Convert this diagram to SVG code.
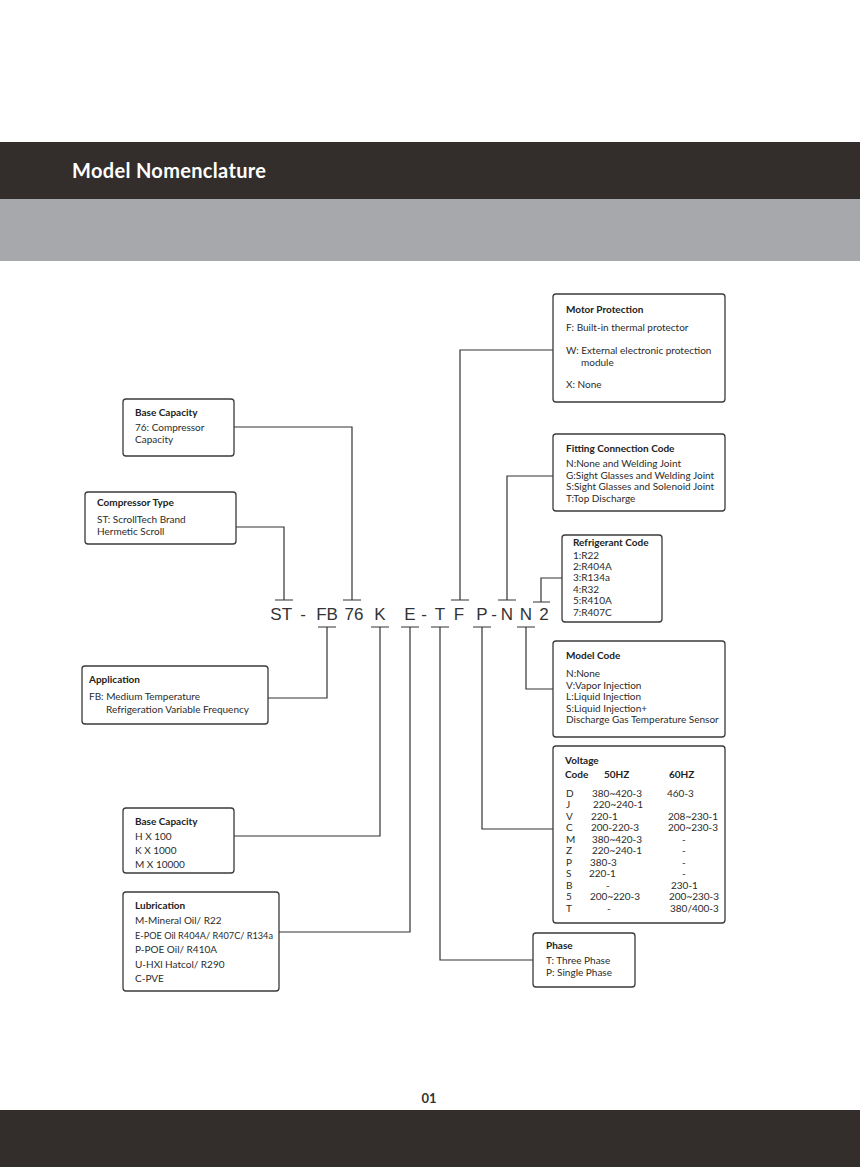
<svg xmlns="http://www.w3.org/2000/svg" width="860" height="1167" viewBox="0 0 860 1167">
<style>
.box{fill:#fff;stroke:#3a3a3a;stroke-width:1.3}
.ln{fill:none;stroke:#333;stroke-width:1.2}
.t{font-family:Lato,"Open Sans","DejaVu Sans",sans-serif;font-size:10px;fill:#2b2b2b}
.h{font-family:Lato,"Open Sans","DejaVu Sans",sans-serif;font-size:10px;font-weight:bold;fill:#222}
.code{font-family:"Liberation Sans",Arial,sans-serif;font-size:17px;fill:#333;text-anchor:middle}
</style>
<rect x="0" y="0" width="860" height="1167" fill="#fff"/>
<g id="header">
<rect x="0" y="142" width="860" height="57" fill="#332e2b"/>
<rect x="0" y="199" width="860" height="62" fill="#a7a8ab"/>
<text x="72" y="178" font-family="Lato,'Open Sans',sans-serif" font-size="20" font-weight="bold" fill="#fff" textLength="194">Model Nomenclature</text>
</g>
<g id="footer">
<rect x="0" y="1110" width="860" height="57" fill="#332e2b"/>
<text x="429" y="1103" font-family="Lato,'Open Sans',sans-serif" font-size="13" font-weight="bold" fill="#333" text-anchor="middle">01</text>
</g>
<g id="model-code">
<text class="code" x="276" y="620">S</text>
<text class="code" x="287" y="620">T</text>
<text class="code" x="303" y="620">-</text>
<text class="code" x="327" y="620">FB</text>
<text class="code" x="354" y="620">76</text>
<text class="code" x="380" y="620">K</text>
<text class="code" x="410" y="620">E</text>
<text class="code" x="424" y="620">-</text>
<text class="code" x="440" y="620">T</text>
<text class="code" x="459" y="620">F</text>
<text class="code" x="482" y="620">P</text>
<text class="code" x="494" y="620">-</text>
<text class="code" x="507" y="620">N</text>
<text class="code" x="526" y="620">N</text>
<text class="code" x="544" y="620">2</text>
</g>
<g id="connectors">
<path class="ln" d="M234 427H352V600M343 600H361"/>
<path class="ln" d="M236 527H284V600M275 600H293"/>
<path class="ln" d="M553 350H460V600M451 600H469"/>
<path class="ln" d="M553 476H507V600M498 600H516"/>
<path class="ln" d="M562 578H541V602M533 602H550"/>
<path class="ln" d="M268 698H327V627M318 627H336"/>
<path class="ln" d="M234 836H380V627M371 627H389"/>
<path class="ln" d="M279 932H410V627M401 627H419"/>
<path class="ln" d="M533 960H440V627M431 627H449"/>
<path class="ln" d="M553 829H482V627M473 627H491"/>
<path class="ln" d="M553 689H526V627M517 627H535"/>
</g>
<g id="motor-protection">
<rect class="box" x="553" y="294" width="172" height="108" rx="3"/>
<text class="h" x="566" y="313">Motor Protection</text>
<text class="t" x="566" y="331">F: Built-in thermal protector</text>
<text class="t" x="566" y="354">W: External electronic protection</text>
<text class="t" x="581" y="366">module</text>
<text class="t" x="566" y="388">X: None</text>
</g>
<g id="fitting-connection">
<rect class="box" x="553" y="434" width="172" height="77" rx="3"/>
<text class="h" x="566" y="452">Fitting Connection Code</text>
<text class="t" x="566" y="467">N:None and Welding Joint</text>
<text class="t" x="566" y="479">G:Sight Glasses and Welding Joint</text>
<text class="t" x="566" y="490">S:Sight Glasses and Solenoid Joint</text>
<text class="t" x="566" y="502">T:Top Discharge</text>
</g>
<g id="refrigerant-code">
<rect class="box" x="562" y="535" width="100" height="87" rx="3"/>
<text class="h" x="573" y="546">Refrigerant Code</text>
<text class="t" x="573" y="559">1:R22</text>
<text class="t" x="573" y="570">2:R404A</text>
<text class="t" x="573" y="581">3:R134a</text>
<text class="t" x="573" y="593">4:R32</text>
<text class="t" x="573" y="604">5:R410A</text>
<text class="t" x="573" y="616">7:R407C</text>
</g>
<g id="model-code-box">
<rect class="box" x="553" y="641" width="172" height="96" rx="3"/>
<text class="h" x="566" y="659">Model Code</text>
<text class="t" x="566" y="677">N:None</text>
<text class="t" x="566" y="689">V:Vapor Injection</text>
<text class="t" x="566" y="700">L:Liquid Injection</text>
<text class="t" x="566" y="712">S:Liquid Injection+</text>
<text class="t" x="566" y="723">Discharge Gas Temperature Sensor</text>
</g>
<g id="voltage">
<rect class="box" x="553" y="746" width="172" height="177" rx="3"/>
<text class="h" x="565" y="764">Voltage</text>
<text class="h" x="565" y="778">Code</text>
<text class="h" x="604" y="778">50HZ</text>
<text class="h" x="669" y="778">60HZ</text>
<g class="t">
<text x="566" y="797">D</text><text x="592" y="797">380~420-3</text><text x="667" y="797">460-3</text>
<text x="566" y="808">J</text><text x="593" y="808">220~240-1</text>
<text x="566" y="820">V</text><text x="591" y="820">220-1</text><text x="668" y="820">208~230-1</text>
<text x="566" y="831">C</text><text x="591" y="831">200-220-3</text><text x="668" y="831">200~230-3</text>
<text x="566" y="843">M</text><text x="592" y="843">380~420-3</text><text x="682" y="843">-</text>
<text x="566" y="854">Z</text><text x="592" y="854">220~240-1</text><text x="682" y="854">-</text>
<text x="566" y="866">P</text><text x="590" y="866">380-3</text><text x="682" y="866">-</text>
<text x="566" y="877">S</text><text x="589" y="877">220-1</text><text x="682" y="877">-</text>
<text x="566" y="889">B</text><text x="606" y="889">-</text><text x="671" y="889">230-1</text>
<text x="566" y="900">5</text><text x="590" y="900">200~220-3</text><text x="669" y="900">200~230-3</text>
<text x="566" y="912">T</text><text x="607" y="912">-</text><text x="670" y="912">380/400-3</text>
</g>
</g>
<g id="phase">
<rect class="box" x="533" y="933" width="102" height="54" rx="3"/>
<text class="h" x="546" y="949">Phase</text>
<text class="t" x="546" y="964">T: Three Phase</text>
<text class="t" x="546" y="976">P: Single Phase</text>
</g>
<g id="base-capacity-top">
<rect class="box" x="123" y="399" width="111" height="57" rx="3"/>
<text class="h" x="135" y="416">Base Capacity</text>
<text class="t" x="135" y="431">76: Compressor</text>
<text class="t" x="135" y="443">Capacity</text>
</g>
<g id="compressor-type">
<rect class="box" x="85" y="492" width="151" height="52" rx="3"/>
<text class="h" x="97" y="506">Compressor Type</text>
<text class="t" x="97" y="523">ST: ScrollTech Brand</text>
<text class="t" x="97" y="535">Hermetic Scroll</text>
</g>
<g id="application">
<rect class="box" x="82" y="666" width="186" height="58" rx="3"/>
<text class="h" x="89" y="683">Application</text>
<text class="t" x="89" y="700">FB: Medium Temperature</text>
<text class="t" x="106" y="713">Refrigeration Variable Frequency</text>
</g>
<g id="base-capacity-bottom">
<rect class="box" x="123" y="808" width="111" height="65" rx="3"/>
<text class="h" x="135" y="825">Base Capacity</text>
<text class="t" x="135" y="840">H X 100</text>
<text class="t" x="135" y="854">K X 1000</text>
<text class="t" x="135" y="868">M X 10000</text>
</g>
<g id="lubrication">
<rect class="box" x="123" y="892" width="156" height="99" rx="3"/>
<text class="h" x="135" y="909">Lubrication</text>
<text class="t" x="135" y="924">M-Mineral Oil/ R22</text>
<text class="t" x="135" y="939" textLength="138" lengthAdjust="spacingAndGlyphs">E-POE Oil R404A/ R407C/ R134a</text>
<text class="t" x="135" y="953">P-POE Oil/ R410A</text>
<text class="t" x="135" y="968">U-HXl Hatcol/ R290</text>
<text class="t" x="135" y="982">C-PVE</text>
</g>
</svg>
